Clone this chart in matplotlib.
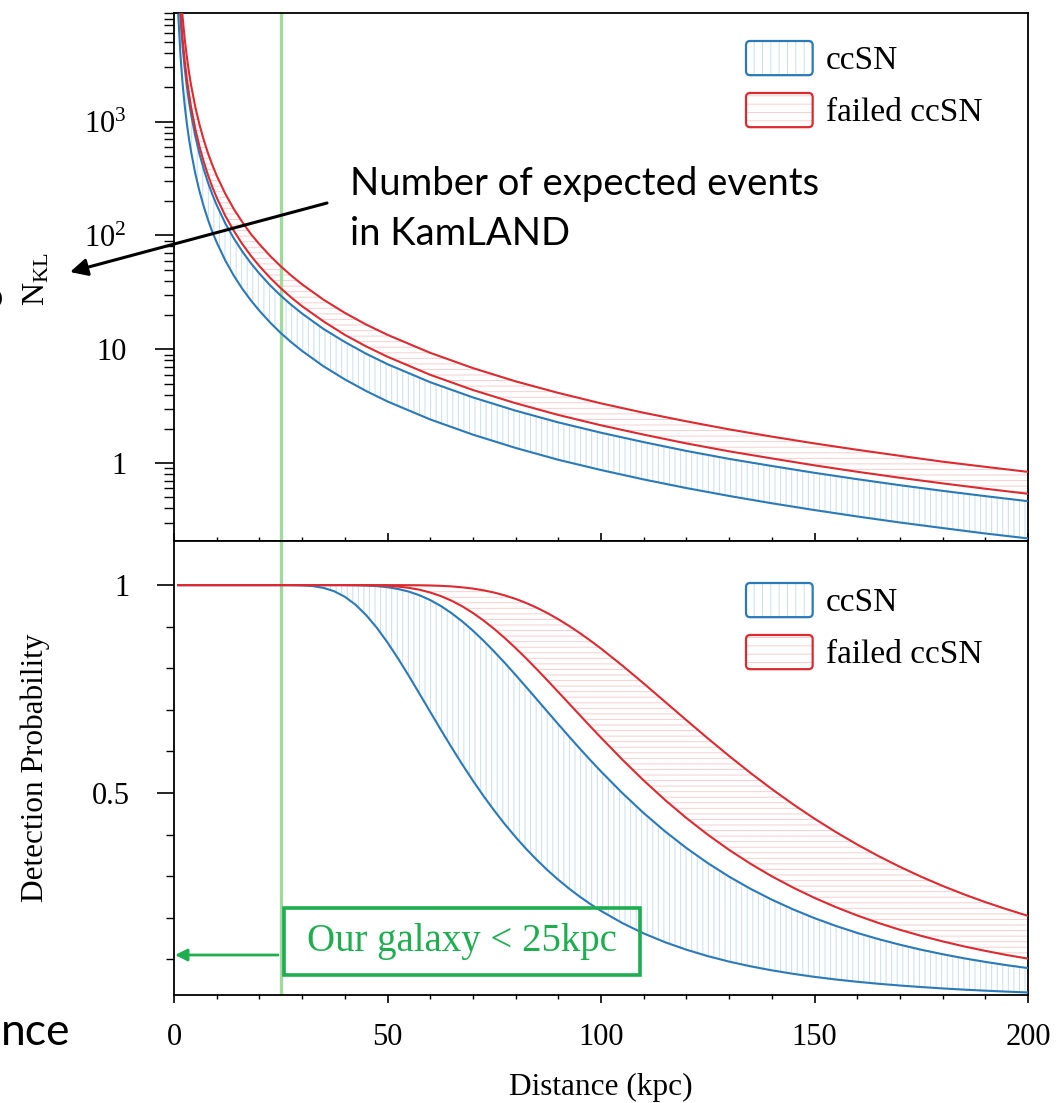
import matplotlib
matplotlib.use("Agg")
import matplotlib.pyplot as plt
from matplotlib.patches import Patch, FancyBboxPatch, Rectangle, FancyArrowPatch
from matplotlib.legend_handler import HandlerPatch, HandlerTuple
from matplotlib.ticker import FixedLocator, MultipleLocator, FuncFormatter, NullFormatter

# ---------------- data ----------------
# expected number of events in KamLAND vs distance (kpc)
dist_n = [1, 1.5, 2, 2.5, 3, 3.5, 4, 5, 6, 7, 8, 9, 10, 12, 14, 16, 18, 20,
          22.5, 25, 27.5, 30, 35, 40, 45, 50, 60, 70, 80, 90, 100, 110, 120,
          130, 140, 150, 160, 170, 180, 190, 200]
ccsn_n_low = [8700, 3870, 2180, 1390, 967, 710, 544, 348, 242, 178, 136, 107,
              87, 60.4, 44.4, 34.0, 26.9, 21.8, 17.2, 13.9, 11.5, 9.67, 7.10,
              5.44, 4.30, 3.48, 2.42, 1.78, 1.36, 1.07, 0.87, 0.719, 0.604,
              0.515, 0.444, 0.387, 0.340, 0.301, 0.269, 0.241, 0.218]
ccsn_n_high = [18500, 8220, 4630, 2960, 2060, 1510, 1160, 740, 514, 378, 289,
               228, 185, 128, 94.4, 72.3, 57.1, 46.3, 36.5, 29.6, 24.5, 20.6,
               15.1, 11.6, 9.14, 7.4, 5.14, 3.78, 2.89, 2.28, 1.85, 1.53, 1.28,
               1.09, 0.944, 0.822, 0.723, 0.640, 0.571, 0.513, 0.463]
failed_n_low = [21500, 9560, 5380, 3440, 2390, 1760, 1340, 860, 597, 439, 336,
                265, 215, 149, 110, 84.0, 66.4, 53.8, 42.5, 34.4, 28.4, 23.9,
                17.6, 13.4, 10.6, 8.6, 5.97, 4.39, 3.36, 2.65, 2.15, 1.78,
                1.49, 1.27, 1.10, 0.956, 0.840, 0.744, 0.664, 0.596, 0.538]
failed_n_high = [33500, 14900, 8380, 5360, 3720, 2730, 2090, 1340, 931, 684,
                 523, 414, 335, 233, 171, 131, 103, 83.8, 66.2, 53.6, 44.3,
                 37.2, 27.3, 20.9, 16.5, 13.4, 9.31, 6.84, 5.23, 4.14, 3.35,
                 2.77, 2.33, 1.98, 1.71, 1.49, 1.31, 1.16, 1.03, 0.928, 0.838]

# detection probability vs distance (kpc)
dist_p = [1, 10, 20, 25, 27.5, 30, 32.5, 35, 37.5, 40, 42.5, 45, 47.5, 50,
          52.5, 55, 57.5, 60, 62.5, 65, 67.5, 70, 72.5, 75, 77.5, 80, 82.5, 85,
          87.5, 90, 92.5, 95, 97.5, 100, 105, 110, 115, 120, 125, 130, 135,
          140, 145, 150, 155, 160, 165, 170, 175, 180, 185, 190, 195, 200]
ccsn_p_low = [1, 1, 1, 1, 0.9999, 0.9993, 0.9976, 0.9933, 0.9852, 0.9720,
              0.9529, 0.9278, 0.8973, 0.8620, 0.8230, 0.7816, 0.7386, 0.6952,
              0.6520, 0.6098, 0.5689, 0.5298, 0.4927, 0.4577, 0.4248, 0.3941,
              0.3654, 0.3389, 0.3142, 0.2915, 0.2704, 0.2510, 0.2331, 0.2166,
              0.1873, 0.1624, 0.1413, 0.1233, 0.1079, 0.0947, 0.0834, 0.0737,
              0.0653, 0.0580, 0.0517, 0.0462, 0.0414, 0.0372, 0.0335, 0.0302,
              0.0273, 0.0248, 0.0225, 0.0205]
ccsn_p_high = [1, 1, 1, 1, 1, 1, 1, 1, 1, 0.9999, 0.9996, 0.9989, 0.9975,
               0.9949, 0.9906, 0.9843, 0.9755, 0.9640, 0.9497, 0.9325, 0.9127,
               0.8905, 0.8662, 0.8400, 0.8125, 0.7839, 0.7546, 0.7249, 0.6951,
               0.6654, 0.6361, 0.6073, 0.5792, 0.5519, 0.4999, 0.4518, 0.4078,
               0.3678, 0.3316, 0.2990, 0.2698, 0.2436, 0.2202, 0.1992, 0.1805,
               0.1637, 0.1487, 0.1353, 0.1232, 0.1125, 0.1027, 0.0940, 0.0861,
               0.0791]
failed_p_low = [1, 1, 1, 1, 1, 1, 1, 1, 1, 1, 0.9999, 0.9997, 0.9992, 0.9982,
                0.9964, 0.9934, 0.9888, 0.9822, 0.9735, 0.9625, 0.9490, 0.9330,
                0.9148, 0.8945, 0.8723, 0.8485, 0.8234, 0.7972, 0.7703, 0.7429,
                0.7153, 0.6877, 0.6602, 0.6331, 0.5803, 0.5302, 0.4833, 0.4399,
                0.3999, 0.3633, 0.3300, 0.2998, 0.2726, 0.2479, 0.2257, 0.2056,
                0.1875, 0.1712, 0.1565, 0.1433, 0.1313, 0.1205, 0.1106, 0.1018]
failed_p_high = [1, 1, 1, 1, 1, 1, 1, 1, 1, 1, 1, 1, 1, 1, 0.9999, 0.9998,
                 0.9996, 0.9991, 0.9982, 0.9968, 0.9946, 0.9916, 0.9874, 0.9820,
                 0.9751, 0.9668, 0.9569, 0.9454, 0.9324, 0.9179, 0.9020, 0.8849,
                 0.8666, 0.8474, 0.8065, 0.7635, 0.7194, 0.6752, 0.6316, 0.5892,
                 0.5484, 0.5096, 0.4729, 0.4384, 0.4062, 0.3762, 0.3484, 0.3226,
                 0.2987, 0.2767, 0.2564, 0.2378, 0.2206, 0.2047]

galaxy_edge = 25
series_labels = ["ccSN", "failed ccSN"]
log_ticks = [1, 10, 100, 1000]
log_tick_labels = ["1", "10", "10$^2$", "10$^3$"]

# ---------------- style ----------------
plt.rcParams["font.family"] = ["Liberation Serif", "DejaVu Serif"]
plt.rcParams["mathtext.fontset"] = "custom"
plt.rcParams["mathtext.rm"] = "Liberation Serif"
plt.rcParams["mathtext.it"] = "Liberation Serif:italic"
plt.rcParams["mathtext.bf"] = "Liberation Serif:bold"
plt.rcParams["hatch.linewidth"] = 0.7

BLUE = "#2a79b8"
RED = "#dd2a30"
BLUE_HATCH = "#c9dff1"
RED_HATCH = "#f6cfd0"
GREEN_LINE = "#a3d99e"
GREEN = "#1eae50"
SANS = ["Lato", "DejaVu Sans"]

W, H = 1056, 1103
fig = plt.figure(figsize=(W / 100, H / 100), dpi=100)


def fx(px):
    return px / W


def fy(py):
    return 1 - py / H


L, R = 174, 1028
T1, MID, B2 = 13, 541, 995
ax1 = fig.add_axes([fx(L), fy(MID), (R - L) / W, (MID - T1) / H])
ax2 = fig.add_axes([fx(L), fy(B2), (R - L) / W, (B2 - MID) / H], sharex=ax1)


def band(ax, x, lo, hi, color, hatch_color, hatch):
    ax.fill_between(x, lo, hi, facecolor="none", edgecolor=hatch_color,
                    hatch=hatch, linewidth=0, zorder=1)
    ax.plot(x, lo, color=color, lw=1.5, zorder=3)
    ax.plot(x, hi, color=color, lw=1.5, zorder=3)


# top panel: expected events
band(ax1, dist_n, ccsn_n_low, ccsn_n_high, BLUE, BLUE_HATCH, "|||")
band(ax1, dist_n, failed_n_low, failed_n_high, RED, RED_HATCH, "---")
ax1.axvline(galaxy_edge, color=GREEN_LINE, lw=2.4, zorder=2)
ax1.set_yscale("log")
ax1.set_ylim(0.207, 9000)
ax1.set_xlim(0, 200)
ax1.yaxis.set_major_locator(FixedLocator(log_ticks))
ax1.yaxis.set_major_formatter(
    FuncFormatter(lambda v, p: dict(zip(log_ticks, log_tick_labels)).get(round(v), "")))
ax1.yaxis.set_minor_locator(FixedLocator(
    [m * 10 ** e for e in range(-1, 4) for m in range(2, 10)]))
ax1.yaxis.set_minor_formatter(NullFormatter())
ax1.tick_params(axis="y", which="major", direction="out", length=14, width=1.2,
                pad=20, labelsize=22)
ax1.tick_params(axis="y", which="minor", direction="out", length=7, width=1.0)
ax1.tick_params(axis="x", which="major", direction="in", length=6, width=1.2,
                labelbottom=False)
ax1.tick_params(axis="x", which="minor", direction="in", length=3, width=1.0)
ax1.set_ylabel(r"$\mathrm{N}_{\mathrm{KL}}$", fontsize=23)
ax1.yaxis.set_label_coords(-0.143, 0.496)

# bottom panel: detection probability
band(ax2, dist_p, ccsn_p_low, ccsn_p_high, BLUE, BLUE_HATCH, "|||")
band(ax2, dist_p, failed_p_low, failed_p_high, RED, RED_HATCH, "---")
ax2.axvline(galaxy_edge, color=GREEN_LINE, lw=2.4, zorder=2)
ax2.set_ylim(0.0144, 1.106)
ax2.yaxis.set_major_locator(FixedLocator([0.5, 1.0]))
ax2.yaxis.set_major_formatter(FuncFormatter(lambda v, p: "1" if v == 1 else f"{v:g}"))
ax2.yaxis.set_minor_locator(FixedLocator([0.1, 0.2, 0.3, 0.4, 0.6, 0.7, 0.8, 0.9]))
ax2.xaxis.set_major_locator(MultipleLocator(50))
ax2.xaxis.set_minor_locator(MultipleLocator(10))
ax2.tick_params(axis="y", which="major", direction="out", length=12, width=1.2,
                pad=20, labelsize=22)
ax2.tick_params(axis="y", which="minor", direction="out", length=6, width=1.0)
ax2.tick_params(axis="x", which="major", direction="out", length=6, width=1.2,
                pad=14, labelsize=22)
ax2.tick_params(axis="x", which="minor", direction="out", length=3, width=1.0)
ax2.set_ylabel("Detection Probability", fontsize=22.5)
ax2.yaxis.set_label_coords(-0.145, 0.5)
ax2.set_xlabel("Distance (kpc)", fontsize=22.5)
ax2.xaxis.set_label_coords(0.5, -0.172)

for ax in (ax1, ax2):
    for s in ax.spines.values():
        s.set_linewidth(1.3)


# legends with rounded hatched swatches
def rounded(legend, orig_handle, xdescent, ydescent, width, height, fontsize):
    return FancyBboxPatch((-xdescent, -ydescent), width, height,
                          boxstyle="round,pad=0,rounding_size=3")


def legend_handles():
    hb = (Patch(facecolor="none", edgecolor=BLUE_HATCH, hatch="||", lw=0),
          Patch(facecolor="none", edgecolor=BLUE, lw=1.6))
    hr = (Patch(facecolor="none", edgecolor=RED_HATCH, hatch="--", lw=0),
          Patch(facecolor="none", edgecolor=RED, lw=1.6))
    return [hb, hr]


hmap = {tuple: HandlerTuple(ndivide=1, pad=0), Patch: HandlerPatch(patch_func=rounded)}
for ax, top_px, axh in ((ax1, 41, MID - T1), (ax2, 583, B2 - MID)):
    y0 = MID if ax is ax1 else B2
    ax.legend(legend_handles(), series_labels, handler_map=hmap,
              loc="upper left", bbox_to_anchor=((746 - L) / (R - L), (y0 - top_px) / axh),
              frameon=False, fontsize=24, handlelength=2.0, handleheight=1.2,
              handletextpad=0.4, labelspacing=0.5, borderpad=0, borderaxespad=0)

# callout for the expected-event axis
fig.text(fx(350), fy(195), "Number of expected events", fontsize=27.5,
         family=SANS, ha="left", va="baseline")
fig.text(fx(350), fy(245), "in KamLAND", fontsize=27.5,
         family=SANS, ha="left", va="baseline")
fig.add_artist(FancyArrowPatch((fx(327), fy(203)), (fx(70), fy(272)),
                               transform=fig.transFigure, arrowstyle="-|>",
                               mutation_scale=26, lw=2.2, color="black",
                               shrinkA=0, shrinkB=0))

# galaxy boundary marker
fig.add_artist(Rectangle((fx(284), fy(975)), (640 - 284) / W, (975 - 908) / H,
                         transform=fig.transFigure, facecolor="none",
                         edgecolor=GREEN, lw=2.6, zorder=5))
fig.text(fx(462), fy(941), "Our galaxy < 25kpc", fontsize=28, color=GREEN,
         ha="center", va="center", zorder=6)
fig.add_artist(FancyArrowPatch((fx(278), fy(955)), (fx(175), fy(955)),
                               transform=fig.transFigure, arrowstyle="-|>",
                               mutation_scale=18, lw=2.0, color=GREEN,
                               shrinkA=0, shrinkB=0, zorder=5))

# slide text running off the left edge
fig.text(fx(70), fy(1045), "nce", fontsize=32, family=SANS, ha="right",
         va="baseline")
fig.text(fx(-17), fy(308), "o", fontsize=26, family=SANS, ha="left",
         va="baseline")

fig.savefig("out.png", dpi=100)
